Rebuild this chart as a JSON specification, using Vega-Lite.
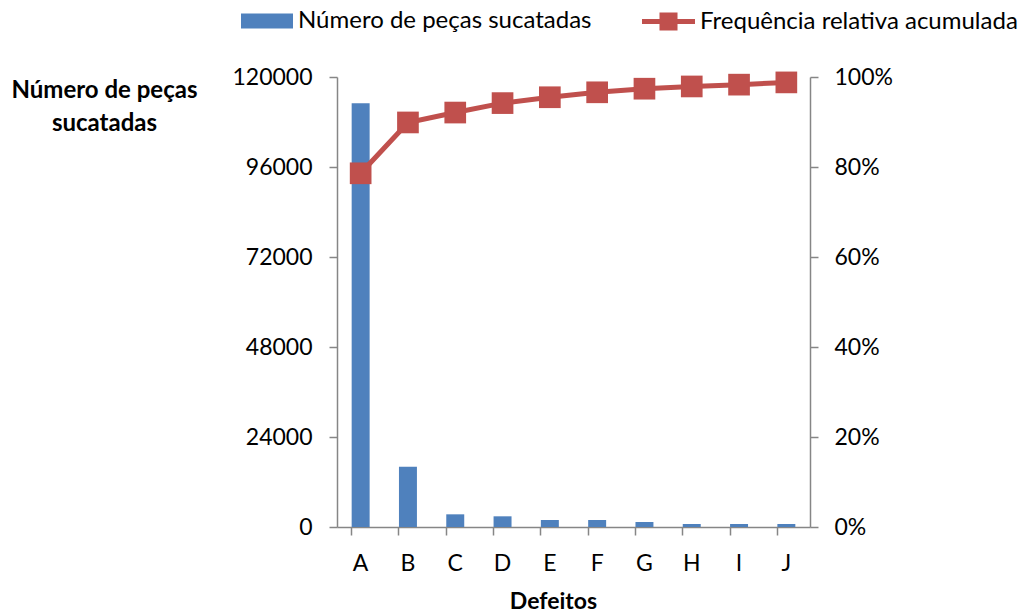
{
  "$schema": "https://vega.github.io/schema/vega-lite/v6.json",
  "width": 473,
  "height": 450,
  "autosize": "none",
  "padding": {"left": 337, "top": 77, "right": 222, "bottom": 87},
  "background": "white",
  "config": {
    "view": {"stroke": null},
    "font": "Lato",
    "axis": {
      "domainColor": "#868686",
      "domainWidth": 1.5,
      "tickColor": "#868686",
      "tickWidth": 1.5,
      "tickSize": 8,
      "labelFontSize": 23,
      "labelColor": "#000000",
      "labelFont": "Lato",
      "titleFont": "Lato",
      "titleColor": "#000000",
      "grid": false
    },
    "legend": {
      "orient": "none",
      "direction": "horizontal",
      "labelFontSize": 24,
      "labelFont": "Lato",
      "labelColor": "#000000",
      "labelOffset": 5,
      "labelLimit": 0,
      "title": null,
      "symbolStrokeWidth": 0,
      "padding": 0
    }
  },
  "data": {
    "values": [
      {"defeito": "A", "pecas": 112990, "freq": 0.786},
      {"defeito": "B", "pecas": 16080, "freq": 0.899},
      {"defeito": "C", "pecas": 3380, "freq": 0.921},
      {"defeito": "D", "pecas": 2850, "freq": 0.942},
      {"defeito": "E", "pecas": 1870, "freq": 0.955},
      {"defeito": "F", "pecas": 1870, "freq": 0.966},
      {"defeito": "G", "pecas": 1330, "freq": 0.974},
      {"defeito": "H", "pecas": 800, "freq": 0.979},
      {"defeito": "I", "pecas": 800, "freq": 0.983},
      {"defeito": "J", "pecas": 800, "freq": 0.988}
    ]
  },
  "encoding": {
    "x": {
      "field": "defeito",
      "type": "nominal",
      "sort": null,
      "scale": {"paddingInner": 0.62, "paddingOuter": 0.31},
      "axis": {
        "bandPosition": 0,
        "labelAngle": 0,
        "labelPadding": 17,
        "title": "Defeitos",
        "titleFontSize": 23,
        "titleFontWeight": "bold",
        "titleX": 216,
        "titleY": 81,
        "titleBaseline": "alphabetic"
      }
    }
  },
  "layer": [
    {
      "mark": {"type": "bar"},
      "encoding": {
        "y": {
          "field": "pecas",
          "type": "quantitative",
          "scale": {"domain": [0, 120000]},
          "axis": {
            "values": [0, 24000, 48000, 72000, 96000, 120000],
            "format": "d",
            "labelPadding": 17,
            "title": ["Número de peças", "sucatadas"],
            "titleAngle": 0,
            "titleAlign": "center",
            "titleBaseline": "alphabetic",
            "titleX": -233,
            "titleY": 20,
            "titleLineHeight": 33,
            "titleFontSize": 24,
            "titleFontWeight": "bold"
          }
        },
        "fill": {
          "datum": "Número de peças sucatadas",
          "type": "nominal",
          "scale": {"range": ["#4F81BD"]},
          "legend": {
            "legendX": -96,
            "legendY": -82,
            "symbolType": "M-1,-0.29H1V0.29H-1Z",
            "symbolSize": 2704
          }
        }
      }
    },
    {
      "layer": [
        {
          "mark": {"type": "line", "strokeWidth": 5, "color": "#C0504D"},
          "encoding": {
            "y": {
              "field": "freq",
              "type": "quantitative",
              "scale": {"domain": [0, 1]},
              "axis": {
                "orient": "right",
                "values": [0, 0.2, 0.4, 0.6, 0.8, 1],
                "format": ".0%",
                "labelPadding": 16,
                "title": null
              }
            },
            "stroke": {
              "datum": "Frequência relativa acumulada",
              "type": "nominal",
              "scale": {"range": ["#C0504D"]},
              "legend": {
                "legendX": 305,
                "legendY": -82,
                "symbolType": "M-1,-0.094H-0.34V-0.34H0.34V-0.094H1V0.094H0.34V0.34H-0.34V0.094H-1Z",
                "symbolSize": 2809,
                "symbolFillColor": "#C0504D"
              }
            }
          }
        },
        {
          "mark": {"type": "point", "shape": "square", "filled": true, "size": 470, "color": "#C0504D", "opacity": 1},
          "encoding": {
            "y": {"field": "freq", "type": "quantitative"}
          }
        }
      ]
    }
  ],
  "resolve": {"scale": {"y": "independent"}}
}
